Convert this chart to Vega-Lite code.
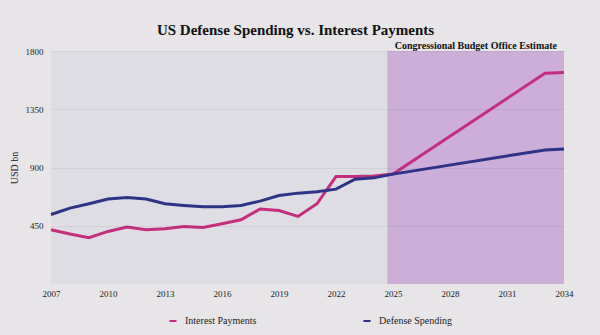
{
  "$schema": "https://vega.github.io/schema/vega-lite/v6.json",
  "width": 513,
  "height": 233,
  "autosize": {"type": "none"},
  "padding": {"left": 51, "top": 51, "right": 36, "bottom": 51},
  "background": "#e7e5e8",
  "config": {"view": {"fill": "#dfdde4", "stroke": null}, "font": "Liberation Serif"},
  "title": {"text": "US Defense Spending vs. Interest Payments", "fontSize": 15, "fontWeight": "bold", "color": "#111111", "anchor": "middle", "dx": -12, "offset": 3, "font": "Liberation Serif"},
  "layer": [
    {
      "data": {"values": [{"start": 2024.7, "end": 2034}]},
      "mark": {"type": "rect", "color": "#cdaed8"},
      "encoding": {
        "x": {"field": "start", "type": "quantitative"},
        "x2": {"field": "end"}
      }
    },
    {
      "data": {"values": [
        {"year": 2007, "series": "Interest Payments", "value": 419},
        {"year": 2008, "series": "Interest Payments", "value": 386},
        {"year": 2009, "series": "Interest Payments", "value": 357},
        {"year": 2010, "series": "Interest Payments", "value": 406},
        {"year": 2011, "series": "Interest Payments", "value": 440},
        {"year": 2012, "series": "Interest Payments", "value": 419},
        {"year": 2013, "series": "Interest Payments", "value": 427},
        {"year": 2014, "series": "Interest Payments", "value": 445},
        {"year": 2015, "series": "Interest Payments", "value": 437},
        {"year": 2016, "series": "Interest Payments", "value": 465},
        {"year": 2017, "series": "Interest Payments", "value": 496},
        {"year": 2018, "series": "Interest Payments", "value": 579},
        {"year": 2019, "series": "Interest Payments", "value": 568},
        {"year": 2020, "series": "Interest Payments", "value": 522},
        {"year": 2021, "series": "Interest Payments", "value": 620},
        {"year": 2022, "series": "Interest Payments", "value": 830},
        {"year": 2023, "series": "Interest Payments", "value": 830},
        {"year": 2024, "series": "Interest Payments", "value": 835},
        {"year": 2025, "series": "Interest Payments", "value": 849},
        {"year": 2033, "series": "Interest Payments", "value": 1628},
        {"year": 2034, "series": "Interest Payments", "value": 1633},
        {"year": 2007, "series": "Defense Spending", "value": 537},
        {"year": 2008, "series": "Defense Spending", "value": 586},
        {"year": 2009, "series": "Defense Spending", "value": 620},
        {"year": 2010, "series": "Defense Spending", "value": 656},
        {"year": 2011, "series": "Defense Spending", "value": 668},
        {"year": 2012, "series": "Defense Spending", "value": 656},
        {"year": 2013, "series": "Defense Spending", "value": 620},
        {"year": 2014, "series": "Defense Spending", "value": 607},
        {"year": 2015, "series": "Defense Spending", "value": 596},
        {"year": 2016, "series": "Defense Spending", "value": 596},
        {"year": 2017, "series": "Defense Spending", "value": 607},
        {"year": 2018, "series": "Defense Spending", "value": 640},
        {"year": 2019, "series": "Defense Spending", "value": 684},
        {"year": 2020, "series": "Defense Spending", "value": 702},
        {"year": 2021, "series": "Defense Spending", "value": 712},
        {"year": 2022, "series": "Defense Spending", "value": 733},
        {"year": 2023, "series": "Defense Spending", "value": 810},
        {"year": 2024, "series": "Defense Spending", "value": 820},
        {"year": 2025, "series": "Defense Spending", "value": 849},
        {"year": 2033, "series": "Defense Spending", "value": 1036},
        {"year": 2034, "series": "Defense Spending", "value": 1042}
      ]},
      "mark": {"type": "line", "strokeWidth": 3},
      "encoding": {
        "x": {
          "field": "year", "type": "quantitative",
          "scale": {"domain": [2007, 2034], "nice": false, "zero": false},
          "axis": {"title": null, "values": [2007, 2010, 2013, 2016, 2019, 2022, 2025, 2028, 2031, 2034], "format": "d", "labelFontSize": 9, "labelColor": "#222222", "domain": false, "ticks": false, "grid": false, "labelPadding": 5, "labelFlush": false}
        },
        "y": {
          "field": "value", "type": "quantitative",
          "scale": {"domain": [0, 1800], "nice": false},
          "axis": {"title": "USD bn", "titleFontSize": 10, "titleFontWeight": "normal", "titleColor": "#222222", "titlePadding": 6, "values": [450, 900, 1350, 1800], "format": "d", "labelFontSize": 9, "labelColor": "#222222", "domain": false, "ticks": false, "grid": true, "gridColor": "#000000", "gridOpacity": 0.05, "labelPadding": 8, "zindex": 1}
        },
        "color": {
          "field": "series", "type": "nominal",
          "scale": {"domain": ["Interest Payments", "Defense Spending"], "range": ["#c42e7c", "#2e3388"]},
          "legend": {"title": null, "orient": "none", "legendX": 117, "legendY": 265, "direction": "horizontal", "symbolType": "stroke", "symbolStrokeWidth": 2, "symbolSize": 50, "labelFontSize": 10, "labelColor": "#222222", "columnPadding": 102, "labelOffset": 7}
        }
      }
    },
    {
      "data": {"values": [{"label": "Congressional Budget Office Estimate", "year": 2034, "value": 1800}]},
      "mark": {"type": "text", "align": "right", "baseline": "alphabetic", "dx": -7, "dy": -2, "fontSize": 10, "fontWeight": "bold", "color": "#111111"},
      "encoding": {
        "x": {"field": "year", "type": "quantitative"},
        "y": {"field": "value", "type": "quantitative"},
        "text": {"field": "label", "type": "nominal"}
      }
    }
  ]
}
